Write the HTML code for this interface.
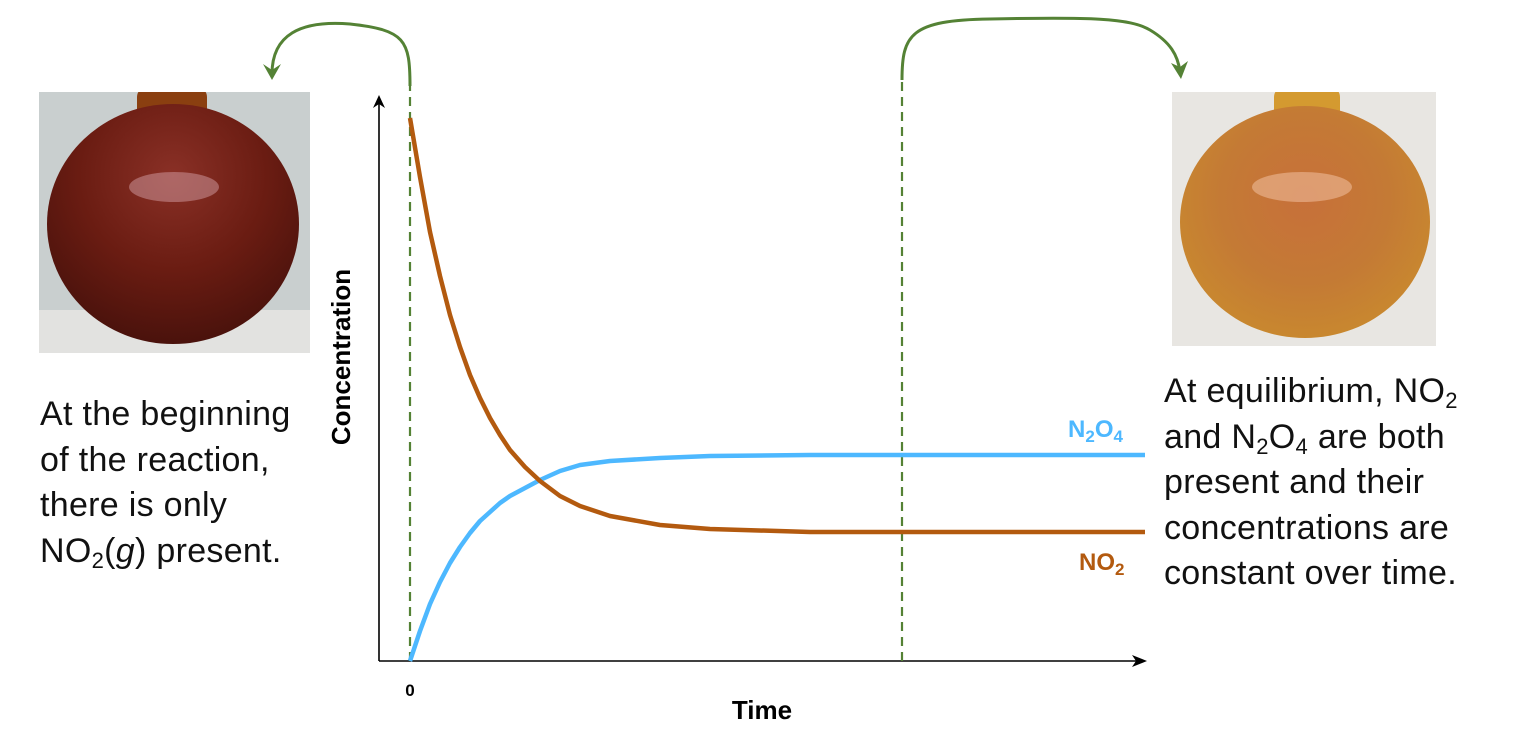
<!DOCTYPE html>
<html><head><meta charset="utf-8"><style>
body{margin:0;background:#fff;width:1528px;height:744px;overflow:hidden;position:relative;font-family:"Liberation Sans",sans-serif}
.ph{position:absolute;overflow:hidden}
.t{position:absolute;font-size:34px;line-height:45.5px;color:#111;white-space:nowrap;letter-spacing:0.3px}
.t sub{font-size:22px;line-height:0;vertical-align:-6px}
</style></head><body>
<div class="ph" style="left:39px;top:92px;width:271px;height:261px;background:#c9cfcf">
 <div style="position:absolute;left:0;top:218px;width:271px;height:43px;background:#e2e2e0"></div>
 <div style="position:absolute;left:98px;top:-5px;width:70px;height:40px;background:#8a3f10;border-radius:10px"></div>
 <div style="position:absolute;left:8px;top:12px;width:252px;height:240px;border-radius:50%;background:radial-gradient(circle at 50% 30%,#8a3026 0%,#6a1c12 45%,#4a120c 80%,#3a0e08 100%)"></div>
 <div style="position:absolute;left:90px;top:80px;width:90px;height:30px;border-radius:50%;background:rgba(220,170,180,.45)"></div>
</div>
<div class="ph" style="left:1172px;top:92px;width:264px;height:254px;background:#e8e6e2">
 <div style="position:absolute;left:102px;top:-5px;width:66px;height:40px;background:#d49a30;border-radius:10px"></div>
 <div style="position:absolute;left:8px;top:14px;width:250px;height:232px;border-radius:50%;background:radial-gradient(circle at 50% 40%,#c7703a 0%,#c47a35 45%,#c98a2e 80%,#d8a040 100%)"></div>
 <div style="position:absolute;left:80px;top:80px;width:100px;height:30px;border-radius:50%;background:rgba(245,200,170,.5)"></div>
</div>
<svg width="1528" height="744" style="position:absolute;left:0;top:0">
 <line x1="379" y1="661" x2="379" y2="100" stroke="#000" stroke-width="1.6"/>
 <path d="M373,108 L379,95 L385,108 L379,104z" fill="#000"/>
 <line x1="379" y1="661" x2="1140" y2="661" stroke="#000" stroke-width="1.6"/>
 <path d="M1132,655 L1147,661 L1132,667 L1136,661z" fill="#000"/>
 <line x1="410" y1="82" x2="410" y2="661" stroke="#548235" stroke-width="2.2" stroke-dasharray="9,6"/>
 <line x1="902" y1="82" x2="902" y2="661" stroke="#548235" stroke-width="2.2" stroke-dasharray="9,6"/>
 <path d="M410,86 C410,40 405,30 350,24 C300,20 272,35 272,74" fill="none" stroke="#548235" stroke-width="3"/>
 <path d="M263,64 L272,80 L281,64 L272,70z" fill="#548235"/>
 <path d="M902,80 C902,35 910,20 990,19 C1090,17 1130,18 1150,30 C1170,42 1178,55 1180,72" fill="none" stroke="#548235" stroke-width="3"/>
 <path d="M1171,63 L1181,79 L1188,61 L1180,67z" fill="#548235"/>
 <polyline fill="none" stroke="#4db8ff" stroke-width="4.5" stroke-linejoin="round" points="410,661 420,631 430,604 440,582 450,563 460,547 470,533 480,521 490,512 500,503 510,496 525,488 540,480 560,471 580,465 610,461 660,458 710,456 810,455 1145,455"/>
 <polyline fill="none" stroke="#b35a0f" stroke-width="4.5" stroke-linejoin="round" points="410,118 420,177 430,232 440,276 450,315 460,347 470,375 480,398 490,418 500,435 510,450 525,467 540,481 560,496 580,506 610,516 660,525 710,529 810,532 1145,532"/>
 <text x="350" y="357" transform="rotate(-90 350 357)" text-anchor="middle" font-size="26" font-weight="bold" fill="#000">Concentration</text>
 <text x="762" y="719" text-anchor="middle" font-size="26" font-weight="bold" fill="#000">Time</text>
 <text x="410" y="696" text-anchor="middle" font-size="17" font-weight="bold" fill="#000">0</text>
 <text x="1068" y="437" font-size="24" font-weight="bold" fill="#4db8ff">N<tspan font-size="17" dy="5">2</tspan><tspan dy="-5">O</tspan><tspan font-size="17" dy="5">4</tspan></text>
 <text x="1079" y="570" font-size="24" font-weight="bold" fill="#b35a0f">NO<tspan font-size="17" dy="5">2</tspan></text>
</svg>
<div class="t" style="left:40px;top:392px">At the beginning<br>of the reaction,<br>there is only<br>NO<sub>2</sub>(<i>g</i>) present.</div>
<div class="t" style="left:1164px;top:369px">At equilibrium, NO<sub>2</sub><br>and N<sub>2</sub>O<sub>4</sub> are both<br>present and their<br>concentrations are<br>constant over time.</div>
</body></html>
